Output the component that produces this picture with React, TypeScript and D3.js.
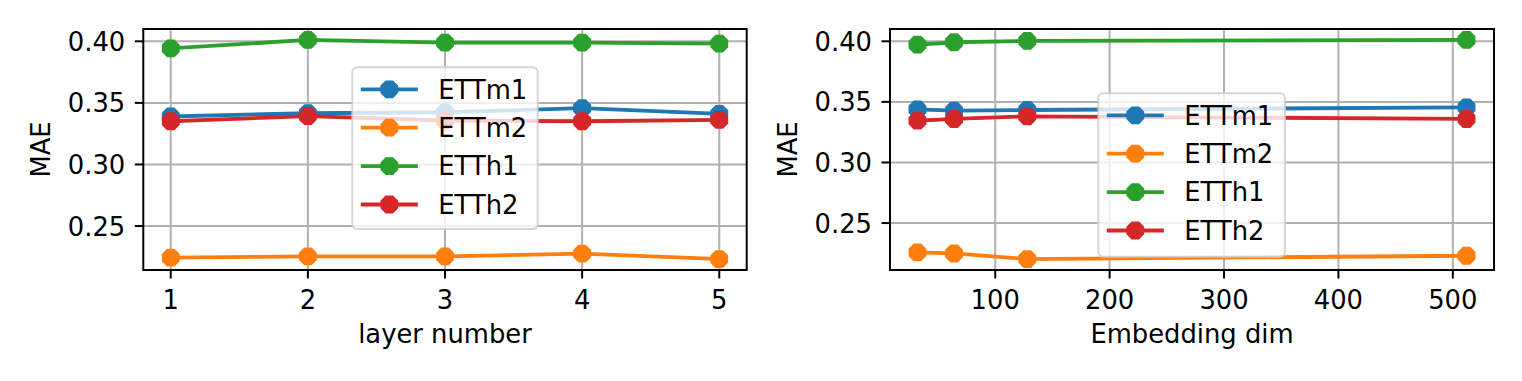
import React from "react";
import * as d3 from "d3";

const seriesNames = ["ETTm1", "ETTm2", "ETTh1", "ETTh2"];
const seriesColors = ["#1f77b4", "#ff7f0e", "#2ca02c", "#d62728"];

const layerNumbers = [1, 2, 3, 4, 5];
const layerETTm1 = [0.339, 0.3416, 0.3424, 0.3457, 0.3411];
const layerETTm2 = [0.2243, 0.2254, 0.2254, 0.2276, 0.2232];
const layerETTh1 = [0.3943, 0.4011, 0.3989, 0.3989, 0.3981];
const layerETTh2 = [0.3351, 0.3392, 0.3357, 0.3351, 0.3362];

const embedDims = [32, 64, 128, 512];
const embedETTm1 = [0.3438, 0.3427, 0.3433, 0.3455];
const embedETTm2 = [0.2258, 0.2249, 0.2203, 0.223];
const embedETTh1 = [0.3972, 0.3992, 0.4003, 0.4011];
const embedETTh2 = [0.3345, 0.3359, 0.3381, 0.3359];

const layerTicks = [1, 2, 3, 4, 5];
const embedTicks = [100, 200, 300, 400, 500];
const yTicks = [0.25, 0.3, 0.35, 0.4];

const FONT = "DejaVu Sans, sans-serif";
const FS = 25.8;

function octagon(cx: number, cy: number, r: number) {
  const pts: string[] = [];
  for (let i = 0; i < 8; i++) {
    const a = (Math.PI / 8) + (i * Math.PI) / 4;
    pts.push(`${cx + r * Math.cos(a)},${cy + r * Math.sin(a)}`);
  }
  return pts.join(" ");
}

function pad(ext: [number, number]): [number, number] {
  const m = (ext[1] - ext[0]) * 0.05;
  return [ext[0] - m, ext[1] + m];
}

type PanelProps = {
  x0: number; x1: number; y0: number; y1: number;
  xs: number[]; series: number[][]; xTicks: number[]; xLabel: string;
  legend: { x: number; y: number; w: number; h: number };
  yLabelX: number;
};

function Panel({ x0, x1, y0, y1, xs, series, xTicks, xLabel, legend, yLabelX }: PanelProps) {
  const xScale = d3.scaleLinear().domain(pad(d3.extent(xs) as [number, number])).range([x0, x1]);
  const all = series.flat();
  const yScale = d3.scaleLinear().domain(pad(d3.extent(all) as [number, number])).range([y1, y0]);
  const line = d3.line<number>().x((_, i) => xScale(xs[i])).y((d) => yScale(d));
  return (
    <g>
      {xTicks.map((t) => (
        <line key={"gx" + t} x1={xScale(t)} x2={xScale(t)} y1={y0} y2={y1} stroke="#b0b0b0" strokeWidth={2} />
      ))}
      {yTicks.map((t) => (
        <line key={"gy" + t} x1={x0} x2={x1} y1={yScale(t)} y2={yScale(t)} stroke="#b0b0b0" strokeWidth={2} />
      ))}
      {series.map((s, si) => (
        <g key={"s" + si}>
          <path d={line(s) || ""} fill="none" stroke={seriesColors[si]} strokeWidth={3.8} strokeLinejoin="round" strokeLinecap="square" />
          {s.map((v, i) => (
            <polygon key={i} points={octagon(xScale(xs[i]), yScale(v), 8.3)} fill={seriesColors[si]} stroke={seriesColors[si]} strokeWidth={2.5} />
          ))}
        </g>
      ))}
      <rect x={x0} y={y0} width={x1 - x0} height={y1 - y0} fill="none" stroke="#000" strokeWidth={2} />
      {xTicks.map((t) => (
        <g key={"xt" + t}>
          <line x1={xScale(t)} x2={xScale(t)} y1={y1} y2={y1 + 8.5} stroke="#000" strokeWidth={2} />
          <text x={xScale(t)} y={y1 + 38.5} textAnchor="middle" fontFamily={FONT} fontSize={FS} fill="#000">{t}</text>
        </g>
      ))}
      {yTicks.map((t) => (
        <g key={"yt" + t}>
          <line x1={x0 - 8.5} x2={x0} y1={yScale(t)} y2={yScale(t)} stroke="#000" strokeWidth={2} />
          <text x={x0 - 18} y={yScale(t) + 9.6} textAnchor="end" fontFamily={FONT} fontSize={FS} fill="#000">{d3.format(".2f")(t)}</text>
        </g>
      ))}
      <text x={(x0 + x1) / 2} y={y1 + 72.5} textAnchor="middle" fontFamily={FONT} fontSize={FS} fill="#000">{xLabel}</text>
      <text transform={`translate(${yLabelX},${(y0 + y1) / 2}) rotate(-90)`} textAnchor="middle" fontFamily={FONT} fontSize={FS} fill="#000">MAE</text>
      <rect x={legend.x} y={legend.y} width={legend.w} height={legend.h} rx={5} fill="#fff" fillOpacity={0.8} stroke="#cccccc" strokeOpacity={0.8} strokeWidth={2} />
      {seriesNames.map((n, i) => {
        const cy = legend.y + 22 + i * 38.4;
        return (
          <g key={"lg" + n}>
            <line x1={legend.x + 8.5} x2={legend.x + 65.5} y1={cy} y2={cy} stroke={seriesColors[i]} strokeWidth={3.8} />
            <polygon points={octagon(legend.x + 37, cy, 8.3)} fill={seriesColors[i]} stroke={seriesColors[i]} strokeWidth={2.5} />
            <text x={legend.x + 86} y={cy + 9.3} fontFamily={FONT} fontSize={FS} fill="#000">{n}</text>
          </g>
        );
      })}
    </g>
  );
}

export default function App() {
  return (
    <svg width={1522} height={381} style={{ position: "absolute", left: 0, top: 0, background: "#fff" }}>
      <rect x={0} y={0} width={1522} height={381} fill="#fff" />
      <Panel
        x0={143.3} x1={746.7} y0={29} y1={270}
        xs={layerNumbers}
        series={[layerETTm1, layerETTm2, layerETTh1, layerETTh2]}
        xTicks={layerTicks} xLabel="layer number"
        legend={{ x: 352.3, y: 67.3, w: 185.4, h: 161.7 }}
        yLabelX={49.5}
      />
      <Panel
        x0={890} x1={1494} y0={29} y1={270}
        xs={embedDims}
        series={[embedETTm1, embedETTm2, embedETTh1, embedETTh2]}
        xTicks={embedTicks} xLabel="Embedding dim"
        legend={{ x: 1098.3, y: 93.3, w: 186.7, h: 163.4 }}
        yLabelX={796.5}
      />
    </svg>
  );
}
